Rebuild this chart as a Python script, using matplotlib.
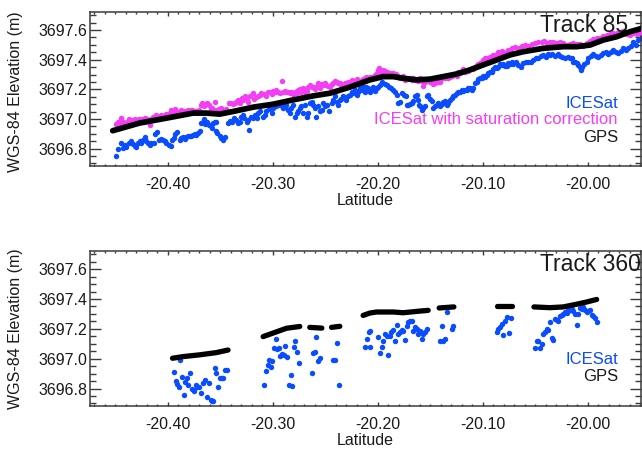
import matplotlib
matplotlib.use("Agg")
import matplotlib.pyplot as plt
from matplotlib.ticker import MultipleLocator, FormatStrFormatter

plt.rcParams['font.family'] = ['Liberation Sans', 'DejaVu Sans']

# ---------------- Track 85 ----------------
t85_icesat_lat = [
    -20.4495, -20.4473, -20.4448, -20.4426, -20.4410, -20.4393, -20.4371, -20.4352, -20.4330, -20.4314,
    -20.4298, -20.4283, -20.4267, -20.4250, -20.4235, -20.4219, -20.4203, -20.4188, -20.4171, -20.4155,
    -20.4130, -20.4117, -20.4098, -20.4086, -20.4067, -20.4045, -20.4029, -20.4012, -20.3990, -20.3971,
    -20.3955, -20.3940, -20.3927, -20.3908, -20.3886, -20.3870, -20.3854, -20.3838, -20.3822, -20.3807,
    -20.3790, -20.3774, -20.3759, -20.3743, -20.3727, -20.3711, -20.3695, -20.3679, -20.3664, -20.3654,
    -20.3641, -20.3626, -20.3610, -20.3590, -20.3578, -20.3569, -20.3552, -20.3536, -20.3545, -20.3530,
    -20.3505, -20.3489, -20.3473, -20.3457, -20.3431, -20.3410, -20.3393, -20.3369, -20.3346, -20.3330,
    -20.3314, -20.3298, -20.3283, -20.3276, -20.3250, -20.3235, -20.3226, -20.3212, -20.3193, -20.3171,
    -20.3155, -20.3140, -20.3117, -20.3092, -20.3076, -20.3060, -20.3035, -20.3012, -20.2997, -20.2971,
    -20.2950, -20.2933, -20.2917, -20.2902, -20.2886, -20.2870, -20.2854, -20.2838, -20.2822, -20.2807,
    -20.2790, -20.2774, -20.2759, -20.2743, -20.2727, -20.2711, -20.2695, -20.2679, -20.2664, -20.2648,
    -20.2631, -20.2616, -20.2600, -20.2584, -20.2569, -20.2552, -20.2536, -20.2521, -20.2505, -20.2483,
    -20.2464, -20.2441, -20.2426, -20.2410, -20.2393, -20.2378, -20.2362, -20.2346, -20.2330, -20.2305,
    -20.2283, -20.2267, -20.2250, -20.2235, -20.2219, -20.2203, -20.2188, -20.2171, -20.2155, -20.2140,
    -20.2124, -20.2108, -20.2092, -20.2076, -20.2060, -20.2045, -20.2029, -20.2012, -20.1997, -20.1981,
    -20.1959, -20.1933, -20.1917, -20.1895, -20.1876, -20.1854, -20.1838, -20.1822, -20.1807, -20.1790,
    -20.1774, -20.1750, -20.1736, -20.1727, -20.1711, -20.1695, -20.1679, -20.1664, -20.1648, -20.1631,
    -20.1622, -20.1610, -20.1600, -20.1584, -20.1569, -20.1552, -20.1536, -20.1521, -20.1505, -20.1489,
    -20.1473, -20.1457, -20.1441, -20.1426, -20.1410, -20.1393, -20.1378, -20.1362, -20.1346, -20.1330,
    -20.1314, -20.1298, -20.1283, -20.1267, -20.1250, -20.1235, -20.1219, -20.1203, -20.1188, -20.1171,
    -20.1155, -20.1140, -20.1124, -20.1108, -20.1092, -20.1076, -20.1060, -20.1045, -20.1029, -20.1012,
    -20.0997, -20.0981, -20.0965, -20.0950, -20.0933, -20.0917, -20.0902, -20.0886, -20.0870, -20.0854,
    -20.0838, -20.0822, -20.0807, -20.0790, -20.0774, -20.0759, -20.0743, -20.0727, -20.0711, -20.0689,
    -20.0664, -20.0638, -20.0616, -20.0593, -20.0569, -20.0543, -20.0521, -20.0498, -20.0473, -20.0448,
    -20.0426, -20.0403, -20.0384, -20.0362, -20.0340, -20.0314, -20.0289, -20.0267, -20.0245, -20.0219,
    -20.0193, -20.0171, -20.0155, -20.0140, -20.0124, -20.0108, -20.0092, -20.0076, -20.0067, -20.0054,
    -20.0035, -20.0012, -19.9997, -19.9971, -19.9950, -19.9927, -19.9902, -19.9876, -19.9854, -19.9831,
    -19.9807, -19.9781, -19.9759, -19.9736, -19.9711, -19.9686, -19.9664, -19.9641, -19.9616, -19.9590,
    -19.9569, -19.9546, -19.9521, -19.9495,
]
t85_icesat_elev = [
    3696.748, 3696.800, 3696.838, 3696.805, 3696.827, 3696.810, 3696.840, 3696.850, 3696.834, 3696.820,
    3696.810, 3696.840, 3696.850, 3696.840, 3696.856, 3696.879, 3696.850, 3696.840, 3696.827, 3696.840,
    3696.840, 3696.900, 3696.910, 3696.860, 3696.865, 3696.860, 3696.850, 3696.840, 3696.827, 3696.820,
    3696.856, 3696.872, 3696.900, 3696.910, 3696.860, 3696.872, 3696.879, 3696.865, 3696.879, 3696.888,
    3696.883, 3696.888, 3696.894, 3696.900, 3696.894, 3696.905, 3696.916, 3696.973, 3696.983, 3697.000,
    3696.968, 3696.977, 3696.960, 3696.950, 3696.939, 3696.973, 3696.977, 3696.983, 3696.916, 3696.905,
    3696.883, 3696.872, 3696.860, 3696.879, 3696.973, 3696.990, 3696.983, 3697.006, 3696.995, 3696.973,
    3696.983, 3697.013, 3697.030, 3697.006, 3696.983, 3696.995, 3696.928, 3697.017, 3697.006, 3697.029,
    3697.006, 3697.040, 3697.051, 3697.017, 3697.029, 3697.051, 3697.067, 3697.040, 3697.074, 3697.089,
    3697.096, 3697.107, 3697.085, 3697.074, 3697.080, 3697.096, 3697.062, 3697.040, 3697.074, 3697.096,
    3697.017, 3697.040, 3697.051, 3697.074, 3697.085, 3697.040, 3697.096, 3697.017, 3697.040, 3697.107,
    3697.118, 3697.096, 3697.074, 3697.017, 3697.085, 3697.051, 3697.062, 3697.107, 3697.085, 3697.096,
    3697.051, 3697.107, 3697.129, 3697.152, 3697.118, 3697.096, 3697.129, 3697.134, 3697.152, 3697.129,
    3697.152, 3697.163, 3697.185, 3697.174, 3697.197, 3697.163, 3697.185, 3697.208, 3697.197, 3697.219,
    3697.185, 3697.219, 3697.208, 3697.185, 3697.201, 3697.219, 3697.190, 3697.210, 3697.219, 3697.230,
    3697.248, 3697.235, 3697.230, 3697.219, 3697.208, 3697.197, 3697.185, 3697.163, 3697.107, 3697.114,
    3697.174, 3697.163, 3697.152, 3697.096, 3697.096, 3697.100, 3697.107, 3697.123, 3697.152, 3697.163,
    3697.129, 3697.096, 3697.085, 3697.062, 3697.074, 3697.085, 3697.152, 3697.163, 3697.136, 3697.123,
    3697.074, 3697.085, 3697.096, 3697.107, 3697.085, 3697.100, 3697.114, 3697.123, 3697.096, 3697.107,
    3697.129, 3697.141, 3697.152, 3697.163, 3697.174, 3697.185, 3697.185, 3697.197, 3697.190, 3697.197,
    3697.197, 3697.208, 3697.208, 3697.197, 3697.208, 3697.242, 3697.253, 3697.271, 3697.275, 3697.280,
    3697.293, 3697.286, 3697.297, 3697.309, 3697.316, 3697.320, 3697.338, 3697.353, 3697.347, 3697.353,
    3697.369, 3697.365, 3697.369, 3697.355, 3697.360, 3697.376, 3697.369, 3697.383, 3697.369, 3697.387,
    3697.365, 3697.353, 3697.376, 3697.387, 3697.383, 3697.387, 3697.398, 3697.410, 3697.414, 3697.427,
    3697.432, 3697.420, 3697.436, 3697.432, 3697.436, 3697.427, 3697.436, 3697.427, 3697.420, 3697.414,
    3697.420, 3697.414, 3697.410, 3697.387, 3697.383, 3697.376, 3697.365, 3697.353, 3697.331, 3697.353,
    3697.369, 3697.387, 3697.410, 3697.427, 3697.436, 3697.427, 3697.420, 3697.432, 3697.443, 3697.454,
    3697.436, 3697.450, 3697.466, 3697.454, 3697.443, 3697.459, 3697.477, 3697.466, 3697.481, 3697.494,
    3697.517, 3697.499, 3697.533, 3697.548,
]

t85_corrected_lat = [
    -20.4489, -20.4473, -20.4457, -20.4441, -20.4426, -20.4403, -20.4384, -20.4371, -20.4352, -20.4340,
    -20.4321, -20.4308, -20.4289, -20.4276, -20.4257, -20.4245, -20.4226, -20.4212, -20.4193, -20.4171,
    -20.4162, -20.4140, -20.4124, -20.4108, -20.4086, -20.4067, -20.4045, -20.4029, -20.4012, -20.3997,
    -20.3981, -20.3965, -20.3950, -20.3933, -20.3917, -20.3902, -20.3886, -20.3870, -20.3854, -20.3838,
    -20.3822, -20.3807, -20.3781, -20.3769, -20.3750, -20.3727, -20.3705, -20.3686, -20.3673, -20.3654,
    -20.3641, -20.3622, -20.3610, -20.3590, -20.3578, -20.3559, -20.3546, -20.3527, -20.3514, -20.3495,
    -20.3483, -20.3464, -20.3441, -20.3419, -20.3400, -20.3378, -20.3362, -20.3346, -20.3330, -20.3314,
    -20.3292, -20.3283, -20.3267, -20.3250, -20.3235, -20.3219, -20.3193, -20.3181, -20.3162, -20.3140,
    -20.3124, -20.3108, -20.3086, -20.3067, -20.3045, -20.3029, -20.3012, -20.2997, -20.2981, -20.2965,
    -20.2950, -20.2933, -20.2917, -20.2902, -20.2886, -20.2870, -20.2854, -20.2838, -20.2822, -20.2807,
    -20.2790, -20.2774, -20.2759, -20.2743, -20.2727, -20.2711, -20.2695, -20.2679, -20.2664, -20.2648,
    -20.2631, -20.2616, -20.2600, -20.2584, -20.2569, -20.2552, -20.2536, -20.2521, -20.2505, -20.2489,
    -20.2473, -20.2457, -20.2441, -20.2426, -20.2410, -20.2393, -20.2378, -20.2362, -20.2346, -20.2330,
    -20.2314, -20.2298, -20.2283, -20.2267, -20.2250, -20.2235, -20.2219, -20.2203, -20.2188, -20.2171,
    -20.2155, -20.2140, -20.2124, -20.2108, -20.2092, -20.2076, -20.2060, -20.2045, -20.2029, -20.2012,
    -20.1997, -20.1990, -20.1971, -20.1950, -20.1933, -20.1908, -20.1886, -20.1870, -20.1854, -20.1831,
    -20.1807, -20.1790, -20.1774, -20.1759, -20.1743, -20.1727, -20.1711, -20.1695, -20.1679, -20.1664,
    -20.1648, -20.1631, -20.1616, -20.1600, -20.1584, -20.1569, -20.1552, -20.1536, -20.1521, -20.1505,
    -20.1489, -20.1473, -20.1457, -20.1441, -20.1426, -20.1410, -20.1393, -20.1378, -20.1362, -20.1346,
    -20.1330, -20.1314, -20.1298, -20.1283, -20.1267, -20.1250, -20.1235, -20.1219, -20.1203, -20.1188,
    -20.1171, -20.1155, -20.1140, -20.1124, -20.1108, -20.1092, -20.1076, -20.1060, -20.1045, -20.1029,
    -20.1012, -20.0997, -20.0981, -20.0965, -20.0950, -20.0933, -20.0917, -20.0902, -20.0886, -20.0870,
    -20.0854, -20.0838, -20.0822, -20.0807, -20.0790, -20.0774, -20.0759, -20.0743, -20.0727, -20.0695,
    -20.0664, -20.0631, -20.0600, -20.0569, -20.0536, -20.0505, -20.0473, -20.0441, -20.0416, -20.0393,
    -20.0362, -20.0330, -20.0298, -20.0267, -20.0235, -20.0203, -20.0171, -20.0140, -20.0108, -20.0076,
    -20.0045, -20.0012, -19.9981, -19.9950, -19.9917, -19.9886, -19.9854, -19.9822, -19.9790, -19.9759,
    -19.9727, -19.9695, -19.9664, -19.9631, -19.9600, -19.9569, -19.9536, -19.9505,
]
t85_corrected_elev = [
    3696.968, 3696.983, 3696.973, 3697.006, 3696.977, 3696.968, 3696.983, 3697.000, 3696.990, 3696.995,
    3696.983, 3697.000, 3696.990, 3697.000, 3696.990, 3697.000, 3696.983, 3697.006, 3697.000, 3696.961,
    3697.000, 3697.013, 3697.022, 3697.029, 3697.017, 3697.029, 3697.022, 3697.029, 3697.035, 3697.022,
    3697.044, 3697.058, 3697.035, 3697.067, 3697.051, 3697.040, 3697.044, 3697.058, 3697.051, 3697.044,
    3697.051, 3697.058, 3697.062, 3697.058, 3697.051, 3697.051, 3697.062, 3697.096, 3697.107, 3697.089,
    3697.103, 3697.111, 3697.096, 3697.067, 3697.074, 3697.062, 3697.118, 3697.062, 3697.067, 3697.074,
    3697.062, 3697.062, 3697.067, 3697.107, 3697.111, 3697.103, 3697.111, 3697.118, 3697.129, 3697.111,
    3697.141, 3697.129, 3697.156, 3697.141, 3697.118, 3697.152, 3697.174, 3697.134, 3697.148, 3697.152,
    3697.163, 3697.174, 3697.170, 3697.152, 3697.179, 3697.185, 3697.170, 3697.192, 3697.179, 3697.197,
    3697.185, 3697.174, 3697.259, 3697.179, 3697.192, 3697.179, 3697.185, 3697.174, 3697.179, 3697.170,
    3697.185, 3697.174, 3697.197, 3697.201, 3697.185, 3697.208, 3697.179, 3697.192, 3697.215, 3697.230,
    3697.219, 3697.215, 3697.201, 3697.215, 3697.246, 3697.208, 3697.237, 3697.230, 3697.242, 3697.230,
    3697.224, 3697.219, 3697.237, 3697.246, 3697.259, 3697.253, 3697.246, 3697.242, 3697.230, 3697.224,
    3697.242, 3697.230, 3697.253, 3697.246, 3697.264, 3697.253, 3697.259, 3697.268, 3697.253, 3697.259,
    3697.264, 3697.268, 3697.259, 3697.286, 3697.275, 3697.282, 3697.275, 3697.286, 3697.297, 3697.310,
    3697.331, 3697.342, 3697.320, 3697.331, 3697.324, 3697.320, 3697.309, 3697.297, 3697.309, 3697.302,
    3697.293, 3697.280, 3697.275, 3697.293, 3697.264, 3697.275, 3697.271, 3697.280, 3697.264, 3697.275,
    3697.264, 3697.271, 3697.257, 3697.275, 3697.257, 3697.226, 3697.253, 3697.264, 3697.271, 3697.253,
    3697.257, 3697.235, 3697.242, 3697.257, 3697.248, 3697.253, 3697.275, 3697.286, 3697.280, 3697.286,
    3697.275, 3697.286, 3697.293, 3697.297, 3697.302, 3697.293, 3697.320, 3697.309, 3697.324, 3697.338,
    3697.320, 3697.331, 3697.324, 3697.338, 3697.347, 3697.338, 3697.353, 3697.365, 3697.369, 3697.376,
    3697.387, 3697.398, 3697.410, 3697.410, 3697.414, 3697.420, 3697.427, 3697.432, 3697.420, 3697.436,
    3697.454, 3697.443, 3697.459, 3697.454, 3697.443, 3697.450, 3697.465, 3697.466, 3697.477, 3697.488,
    3697.477, 3697.494, 3697.499, 3697.494, 3697.504, 3697.510, 3697.521, 3697.517, 3697.526, 3697.510,
    3697.521, 3697.517, 3697.510, 3697.521, 3697.510, 3697.499, 3697.504, 3697.510, 3697.504, 3697.504,
    3697.494, 3697.510, 3697.526, 3697.540, 3697.544, 3697.548, 3697.562, 3697.566, 3697.571, 3697.578,
    3697.578, 3697.589, 3697.593, 3697.573, 3697.566, 3697.580, 3697.573, 3697.587,
]

t85_gps_lat = [
    -20.4524, -20.4267, -20.4012, -20.3759, -20.3631, -20.3505, -20.3378, -20.3187, -20.2997, -20.2807,
    -20.2616, -20.2457, -20.2267, -20.2076, -20.1950, -20.1854, -20.1760, -20.1632, -20.1505, -20.1378,
    -20.1250, -20.1124, -20.0997, -20.0870, -20.0743, -20.0616, -20.0426, -20.0235, -20.0108, -19.9980,
    -19.9854, -19.9727, -19.9600, -19.9489,
]
t85_gps_elev = [
    3696.921, 3696.973, 3697.006, 3697.040, 3697.040, 3697.033, 3697.051, 3697.080, 3697.100, 3697.129,
    3697.156, 3697.174, 3697.215, 3697.264, 3697.286, 3697.286, 3697.275, 3697.264, 3697.269, 3697.286,
    3697.304, 3697.331, 3697.365, 3697.398, 3697.432, 3697.454, 3697.477, 3697.488, 3697.488, 3697.499,
    3697.533, 3697.555, 3697.589, 3697.611,
]

# ---------------- Track 360 ----------------
t360_icesat_lat = [
    -20.3943, -20.3924, -20.3908, -20.3895, -20.3879, -20.3864, -20.3848, -20.3831, -20.3816, -20.3803,
    -20.3784, -20.3765, -20.3750, -20.3730, -20.3721, -20.3702, -20.3679, -20.3664, -20.3645, -20.3626,
    -20.3607, -20.3590, -20.3581, -20.3569, -20.3552, -20.3536, -20.3521, -20.3505, -20.3486, -20.3470,
    -20.3454, -20.3438,
    -20.3083, -20.3067, -20.3050, -20.3035, -20.3019, -20.3003, -20.2988, -20.2974, -20.2959, -20.2943,
    -20.2927, -20.2911, -20.2895, -20.2879, -20.2864, -20.2848, -20.2831, -20.2816, -20.2800, -20.2784,
    -20.2769, -20.2752,
    -20.2631, -20.2616, -20.2600, -20.2584, -20.2569, -20.2552,
    -20.2431, -20.2410, -20.2393, -20.2374,
    -20.2124, -20.2102, -20.2083, -20.2070, -20.2076, -20.1997, -20.1981, -20.1965, -20.1950, -20.1933,
    -20.1911, -20.1902, -20.1886, -20.1870, -20.1854, -20.1838, -20.1822, -20.1807, -20.1790, -20.1774,
    -20.1759, -20.1743, -20.1727, -20.1711, -20.1695, -20.1679, -20.1664, -20.1648, -20.1631, -20.1616,
    -20.1600, -20.1584, -20.1569, -20.1552, -20.1536,
    -20.1410, -20.1393, -20.1378, -20.1362, -20.1346, -20.1298, -20.1283,
    -20.0870, -20.0854, -20.0838, -20.0822, -20.0807, -20.0790, -20.0774, -20.0750, -20.0736,
    -20.0505, -20.0489, -20.0473, -20.0457, -20.0441, -20.0426, -20.0410, -20.0393, -20.0378, -20.0362,
    -20.0346, -20.0330, -20.0314, -20.0298, -20.0283, -20.0267, -20.0250, -20.0235, -20.0219, -20.0203,
    -20.0188, -20.0171, -20.0155, -20.0140, -20.0124, -20.0108, -20.0092, -20.0076, -20.0060, -20.0045,
    -20.0029, -20.0012, -19.9997, -19.9981, -19.9965, -19.9950, -19.9933, -19.9917,
]
t360_icesat_elev = [
    3696.908, 3696.849, 3696.831, 3696.809, 3696.992, 3696.877, 3696.759, 3696.845, 3696.872, 3696.827,
    3696.906, 3696.800, 3696.782, 3696.822, 3696.809, 3696.809, 3696.770, 3696.838, 3696.854, 3696.743,
    3696.838, 3696.725, 3696.719, 3696.714, 3696.936, 3696.904, 3696.813, 3696.872, 3696.872, 3696.872,
    3696.922, 3696.922,
    3696.822, 3696.917, 3696.956, 3696.990, 3696.944, 3696.985, 3697.071, 3697.132, 3697.064, 3697.071,
    3697.019, 3697.030, 3697.026, 3697.087, 3697.012, 3696.827, 3696.890, 3696.816, 3697.080, 3697.121,
    3697.048, 3696.969,
    3696.906, 3697.041, 3697.048, 3697.143, 3696.985, 3697.003,
    3696.990, 3696.990, 3697.102, 3696.827,
    3697.080, 3697.132, 3697.177, 3697.184, 3697.080, 3697.143, 3697.035, 3697.080, 3697.121, 3697.166,
    3697.155, 3697.026, 3697.155, 3697.177, 3697.193, 3697.116, 3697.229, 3697.166, 3697.177, 3697.193,
    3697.188, 3697.125, 3697.222, 3697.245, 3697.256, 3697.252, 3697.188, 3697.211, 3697.200, 3697.166,
    3697.188, 3697.132, 3697.166, 3697.177, 3697.200,
    3697.121, 3697.222, 3697.121, 3697.132, 3697.313, 3697.200, 3697.222,
    3697.177, 3697.200, 3697.211, 3697.234, 3697.161, 3697.256, 3697.279, 3697.170, 3697.275,
    3697.071, 3697.121, 3697.116, 3697.071, 3697.098, 3697.166, 3697.177, 3697.200, 3697.193, 3697.245,
    3697.139, 3697.125, 3697.268, 3697.261, 3697.252, 3697.283, 3697.290, 3697.302, 3697.313, 3697.306,
    3697.324, 3697.329, 3697.336, 3697.319, 3697.302, 3697.229, 3697.297, 3697.342, 3697.336, 3697.347,
    3697.324, 3697.313, 3697.319, 3697.329, 3697.290, 3697.283, 3697.275, 3697.245,
]

# GPS profile of track 360, one list per continuous stretch
t360_gps_lat = [
    [-20.3955, -20.3854, -20.3695, -20.3536, -20.3426],
    [-20.3092, -20.2965, -20.2870, -20.2743],
    [-20.2648, -20.2533],
    [-20.2441, -20.2362],
    [-20.2140, -20.2076, -20.2012, -20.1854, -20.1759, -20.1631, -20.1521],
    [-20.1416, -20.1276],
    [-20.0870, -20.0727],
    [-20.0514, -20.0362, -20.0235, -20.0108, -20.0012, -19.9917],
]
t360_gps_elev = [
    [3697.003, 3697.014, 3697.026, 3697.041, 3697.058],
    [3697.148, 3697.180, 3697.204, 3697.216],
    [3697.210, 3697.205],
    [3697.210, 3697.217],
    [3697.290, 3697.306, 3697.313, 3697.313, 3697.308, 3697.317, 3697.324],
    [3697.340, 3697.347],
    [3697.351, 3697.351],
    [3697.347, 3697.342, 3697.347, 3697.365, 3697.380, 3697.397],
]

xlim = (-20.474, -19.949)
ylim = (3696.683, 3697.722)
xticks = [-20.40, -20.30, -20.20, -20.10, -20.00]
yticks = [3696.8, 3697.0, 3697.2, 3697.4, 3697.6]

BLUE = '#0a4cff'
MAGENTA = '#f53df5'
INK = '#1a1a1a'
FRAME = '#3a3a3a'

fig = plt.figure(figsize=(6.42, 4.51), dpi=100)
ax1 = fig.add_axes([0.1402, 0.6319, 0.8590, 0.3415])
ax2 = fig.add_axes([0.1402, 0.0998, 0.8590, 0.3437])


def style_axes(ax):
    ax.set_xlim(*xlim)
    ax.set_ylim(*ylim)
    ax.set_xticks(xticks)
    ax.set_yticks(yticks)
    ax.xaxis.set_minor_locator(MultipleLocator(0.01))
    ax.yaxis.set_minor_locator(MultipleLocator(0.05))
    ax.xaxis.set_major_formatter(FormatStrFormatter('%.2f'))
    ax.yaxis.set_major_formatter(FormatStrFormatter('%.1f'))
    for s in ax.spines.values():
        s.set_color(FRAME)
        s.set_linewidth(1.1)
    ax.tick_params(axis='both', which='both', direction='in', top=True, right=True,
                   colors=FRAME, labelcolor=INK, labelsize=11.5, width=1.0)
    ax.tick_params(axis='y', which='major', length=8, pad=2)
    ax.tick_params(axis='y', which='minor', length=4)
    ax.tick_params(axis='x', which='major', length=3, pad=8)
    ax.tick_params(axis='x', which='minor', length=1.6)
    ax.set_xlabel('Latitude', fontsize=11.5, color=INK)
    ax.set_ylabel('WGS-84 Elevation (m)', fontsize=11.5, color=INK)
    ax.xaxis.set_label_coords(0.5, -0.175)
    ax.xaxis.label.set_va('top')


# Track 85: raw and corrected ICESat elevations with the GPS profile
style_axes(ax1)
ax1.plot(t85_icesat_lat, t85_icesat_elev, 'o', ms=3.9, mec='none', color=BLUE, zorder=2)
ax1.plot(t85_corrected_lat, t85_corrected_elev, 'o', ms=3.9, mec='none', color=MAGENTA, zorder=3)
ax1.plot(t85_gps_lat, t85_gps_elev, '-', lw=4.1, color='black', solid_capstyle='round', zorder=4)
ax1.yaxis.set_label_coords(-0.1345, 0.48)
ax1.yaxis.label.set_va('center')
ax1.text(0.816, 0.872, 'Track 85', transform=ax1.transAxes, fontsize=16.5,
         ha='left', va='baseline', color=INK, clip_on=False)
ax1.text(0.9574, 0.3747, 'ICESat', transform=ax1.transAxes, fontsize=12,
         ha='right', va='baseline', color=BLUE)
ax1.text(0.9574, 0.2727, 'ICESat with saturation correction', transform=ax1.transAxes,
         fontsize=12, ha='right', va='baseline', color=MAGENTA)
ax1.text(0.9574, 0.1578, 'GPS', transform=ax1.transAxes, fontsize=12,
         ha='right', va='baseline', color=INK)

# Track 360: ICESat elevations with the GPS stretches
style_axes(ax2)
ax2.plot(t360_icesat_lat, t360_icesat_elev, 'o', ms=3.9, mec='none', color=BLUE, zorder=2)
for seg_lat, seg_elev in zip(t360_gps_lat, t360_gps_elev):
    ax2.plot(seg_lat, seg_elev, '-', lw=3.8, color='black', solid_capstyle='round', zorder=4)
ax2.yaxis.set_label_coords(-0.1345, 0.5)
ax2.yaxis.label.set_va('center')
ax2.text(0.816, 0.873, 'Track 360', transform=ax2.transAxes, fontsize=16.5,
         ha='left', va='baseline', color=INK, clip_on=False)
ax2.text(0.9574, 0.269, 'ICESat', transform=ax2.transAxes, fontsize=12,
         ha='right', va='baseline', color=BLUE)
ax2.text(0.9574, 0.161, 'GPS', transform=ax2.transAxes, fontsize=12,
         ha='right', va='baseline', color=INK)

fig.savefig('out.png', dpi=100)
